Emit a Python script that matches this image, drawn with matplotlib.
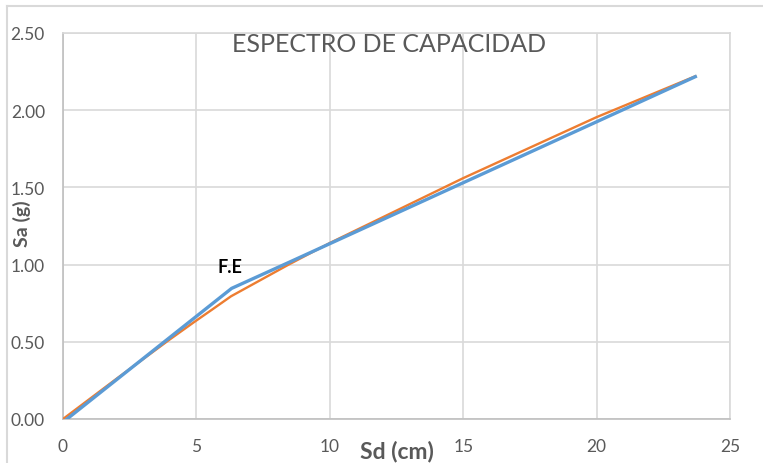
import matplotlib
matplotlib.use("Agg")
import matplotlib.pyplot as plt
from matplotlib.lines import Line2D

# capacity curve (orange) and bilinear idealisation (blue)
sd_cap = [0, 2, 4, 4.9, 5.6, 6.3, 7.3, 8.5, 10, 15, 20, 23.7]
sa_cap = [0, 0.26, 0.515, 0.626, 0.71, 0.795, 0.89, 1.004, 1.14, 1.56, 1.955, 2.22]
sd_bil = [0.15, 6.32, 8.5, 23.7]
sa_bil = [0.0, 0.846, 1.017, 2.217]
fe_point = (6.32, 0.846)

TXT = "#595959"
plt.rcParams["font.family"] = ["Lato", "DejaVu Sans"]

fig = plt.figure(figsize=(7.63, 4.64), dpi=100)
ax = fig.add_axes([63 / 763, 44 / 464, 667 / 763, 386 / 464])

# outer chart frame (top and left edges visible)
fig.lines.append(Line2D([7 / 763, 1.0], [1 - 6.5 / 464] * 2, transform=fig.transFigure,
                        color="#d9d9d9", lw=1.5))
fig.lines.append(Line2D([7 / 763] * 2, [0, 1 - 6.5 / 464], transform=fig.transFigure,
                        color="#d9d9d9", lw=1.5))

ax.plot(sd_cap, sa_cap, color="#ED7D31", lw=1.7, zorder=3)
ax.plot(sd_bil, sa_bil, color="#5B9BD5", lw=2.4, zorder=4)

ax.set_xlim(0, 25)
ax.set_ylim(0, 2.5)
ax.set_xticks(range(0, 26, 5))
ax.set_yticks([0, 0.5, 1.0, 1.5, 2.0, 2.5])
ax.set_yticklabels([f"{v:.2f}" for v in [0, 0.5, 1.0, 1.5, 2.0, 2.5]])
ax.tick_params(length=0, colors=TXT, labelsize=12.5)
ax.tick_params(axis="y", pad=13)
ax.tick_params(axis="x", pad=14)
ax.grid(True, color="#d9d9d9", lw=1.2)
ax.set_axisbelow(True)
for s in ["top", "right"]:
    ax.spines[s].set_color("#d9d9d9")
    ax.spines[s].set_linewidth(1.2)
for s in ["left", "bottom"]:
    ax.spines[s].set_color("#bfbfbf")
    ax.spines[s].set_linewidth(1.2)

fig.text(389 / 763, 1 - 44 / 464, "ESPECTRO DE CAPACIDAD", ha="center", va="center",
         fontsize=18, color=TXT)
fig.text(397 / 763, 1 - 452 / 464, "Sd (cm)", ha="center", va="center",
         fontsize=16.5, fontweight="bold", color=TXT)
fig.text(22 / 763, 1 - 224 / 464, "Sa (g)", ha="center", va="center", rotation=90,
         fontsize=14, fontweight="bold", color=TXT)
ax.annotate("F.E", xy=fe_point, xytext=(-1, 16), textcoords="offset points",
            ha="center", va="center", fontsize=13, fontweight="bold", color="black")

fig.savefig("out.png", dpi=100)
